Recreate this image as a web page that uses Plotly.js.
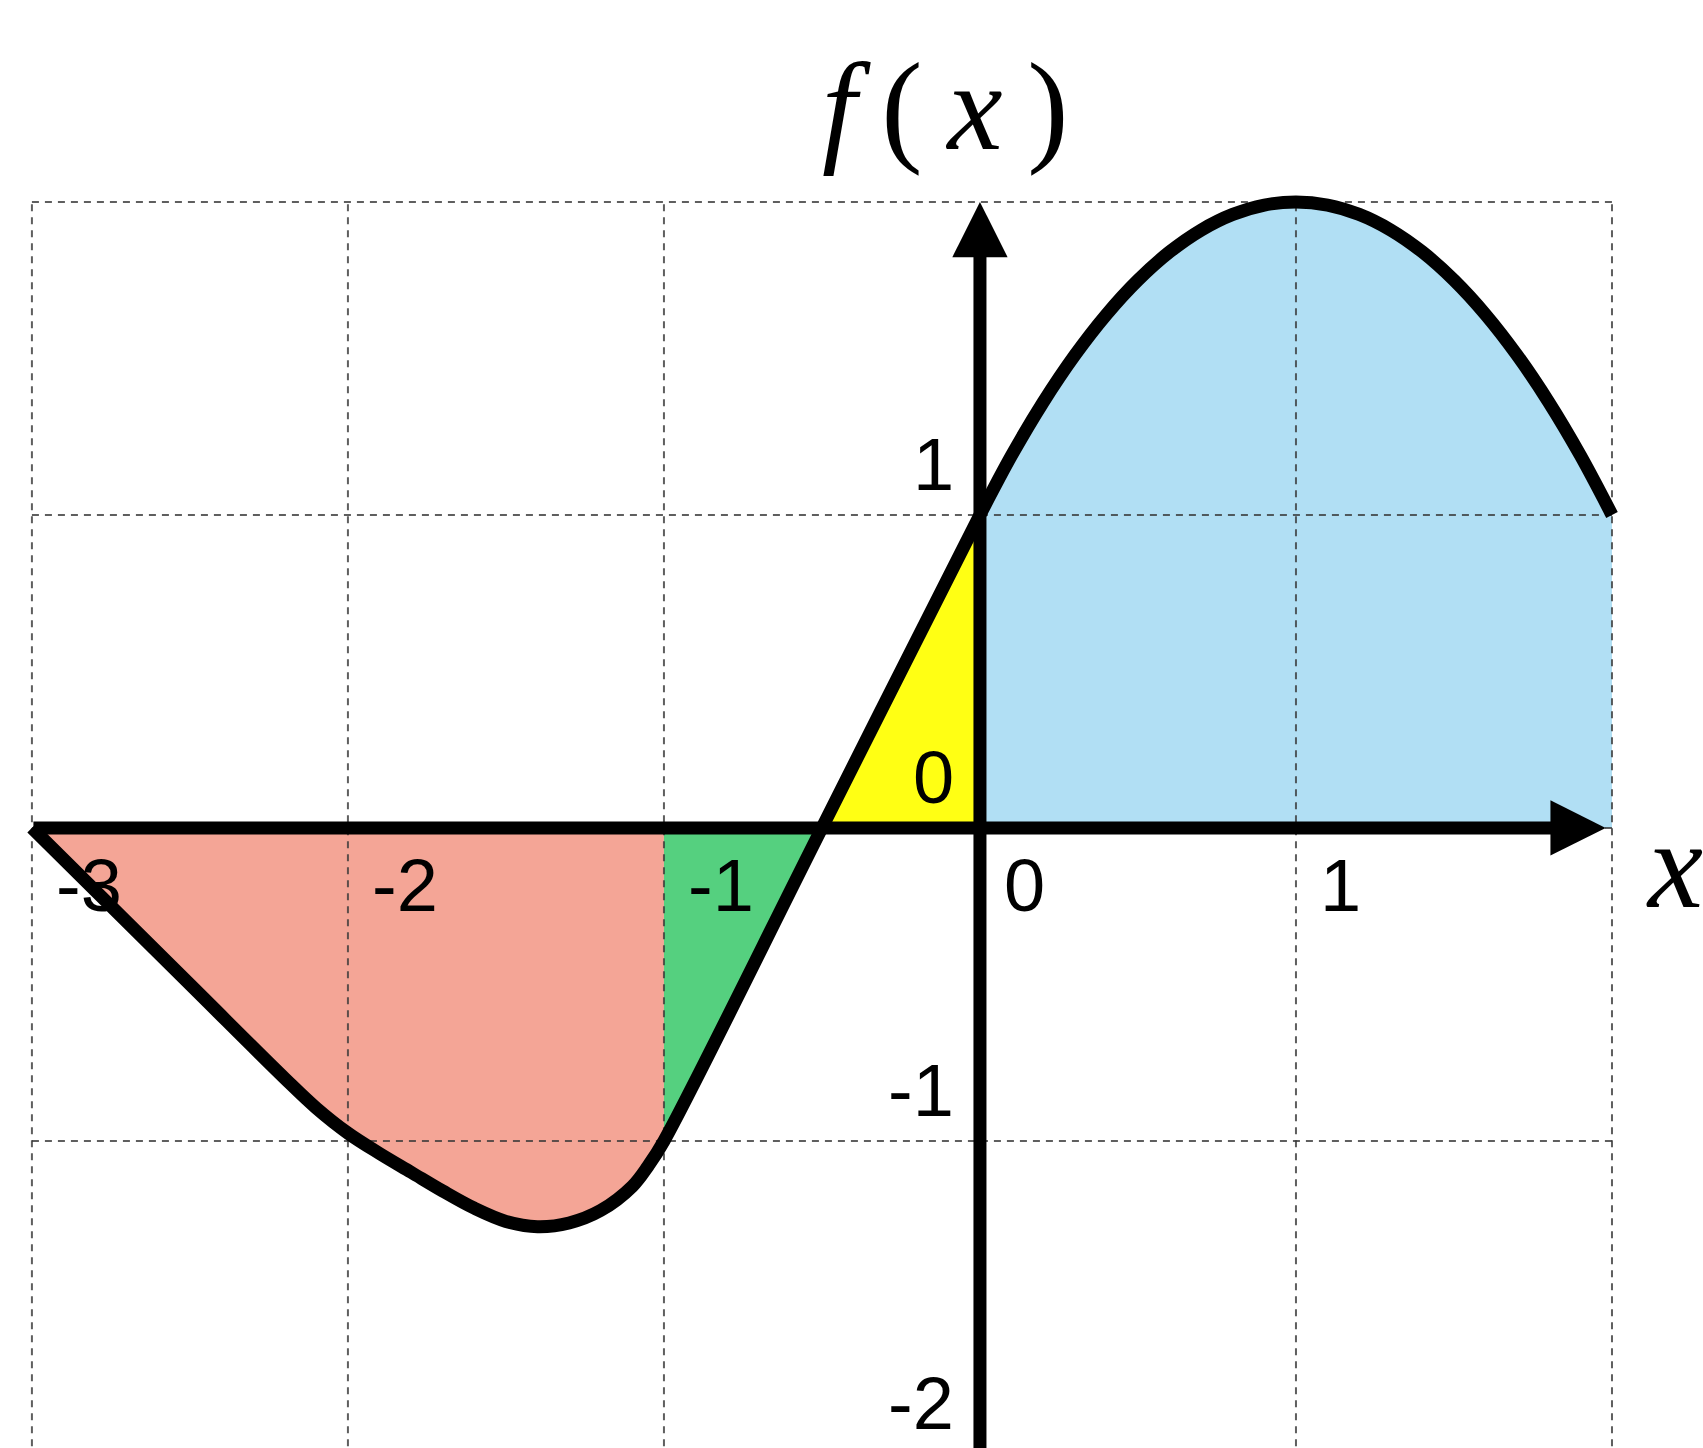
<!DOCTYPE html>
<html>
<head>
<meta charset="utf-8">
<script src="https://cdn.plot.ly/plotly-3.0.1.min.js"></script>
<style>
  html, body { margin: 0; padding: 0; background: #ffffff; }
  #chart { width: 1703px; height: 1448px; }
</style>
</head>
<body>
<div id="chart"></div>
<script>
// Sampled points of f(x)
const curveX = [-3, -2.5, -2.2, -2.1, -2.0, -1.9, -1.8, -1.7, -1.6, -1.5, -1.4, -1.3, -1.2, -1.1, -1.05, -1.0, -0.5, 0,
                0.1, 0.2, 0.3, 0.4, 0.5, 0.6, 0.7, 0.8, 0.9, 1.0, 1.1, 1.2, 1.3, 1.4, 1.5, 1.6, 1.7, 1.8, 1.9, 2.0];
const curveY = [0, -0.5, -0.8, -0.895, -0.975, -1.04, -1.1, -1.16, -1.215, -1.257, -1.274, -1.262, -1.222, -1.145, -1.08, -1.0, 0, 1.0,
                1.19, 1.36, 1.51, 1.64, 1.75, 1.84, 1.91, 1.96, 1.99, 2.0, 1.99, 1.96, 1.91, 1.84, 1.75, 1.64, 1.51, 1.36, 1.19, 1.0];

// Shaded intervals between the curve and the x axis
const regionLo = [-3, -1, -0.5, 0];
const regionHi = [-1, -0.5, 0, 2];
const regionColors = ['rgba(238,110,85,0.62)', 'rgba(55,200,105,0.85)', 'rgb(255,255,20)', 'rgba(125,202,236,0.6)'];

// Grid and tick labels
const gridX = [-3, -2, -1, 0, 1, 2];
const gridY = [-2, -1, 0, 1, 2];
const xTickVals = [-3, -2, -1, 0, 1];
const xTickText = ['-3', '-2', '-1', '0', '1'];
const yTickVals = [1, 0, -1, -2];
const yTickText = ['1', '0', '-1', '-2'];

const xMin = -3, xMax = 2, yTop = 2, yBottom = -2.1;

const traces = [];

// filled areas
regionLo.forEach((lo, i) => {
  const hi = regionHi[i];
  const xs = [], ys = [];
  curveX.forEach((x, k) => {
    if (x >= lo - 1e-9 && x <= hi + 1e-9) { xs.push(x); ys.push(curveY[k]); }
  });
  traces.push({
    type: 'scatter', mode: 'lines', x: xs, y: ys,
    line: { width: 0, shape: 'spline', smoothing: 1 },
    fill: 'tozeroy', fillcolor: regionColors[i],
    hoverinfo: 'skip', showlegend: false
  });
});

// dashed grid
const gx = [], gy = [];
gridX.forEach(v => { gx.push(v, v, null); gy.push(yBottom, yTop, null); });
gridY.forEach(v => { gx.push(xMin, xMax, null); gy.push(v, v, null); });
traces.push({
  type: 'scatter', mode: 'lines', x: gx, y: gy,
  line: { color: 'rgba(55,55,55,0.8)', width: 2, dash: '7px,6px' },
  hoverinfo: 'skip', showlegend: false
});

// the curve
traces.push({
  type: 'scatter', mode: 'lines', x: curveX, y: curveY,
  line: { color: '#000000', width: 13, shape: 'spline', smoothing: 1 },
  hoverinfo: 'skip', showlegend: false
});

const labelFont = { family: 'Liberation Sans, Arial, sans-serif', size: 74, color: '#000000' };
const annotations = [];

// axis arrows
annotations.push({
  x: 1.98, y: 0, ax: xMin, ay: 0, xref: 'x', yref: 'y', axref: 'x', ayref: 'y',
  text: '', showarrow: true, arrowhead: 2, arrowsize: 0.85, arrowwidth: 13, arrowcolor: '#000000'
});
annotations.push({
  x: 0, y: 2.0, ax: 0, ay: -2.2, xref: 'x', yref: 'y', axref: 'x', ayref: 'y',
  text: '', showarrow: true, arrowhead: 2, arrowsize: 0.85, arrowwidth: 13, arrowcolor: '#000000'
});

// tick labels
xTickVals.forEach((v, i) => {
  annotations.push({
    x: v, y: 0, xref: 'x', yref: 'y', text: xTickText[i], showarrow: false,
    xanchor: 'left', yanchor: 'middle', xshift: 22, yshift: -58, font: labelFont
  });
});
yTickVals.forEach((v, i) => {
  annotations.push({
    x: 0, y: v + 0.16, xref: 'x', yref: 'y', text: yTickText[i], showarrow: false,
    xanchor: 'right', yanchor: 'middle', xshift: -24, font: labelFont
  });
});

// axis titles
const titleFont = { family: 'Liberation Serif, DejaVu Serif, serif', size: 124, color: '#000000' };
annotations.push({
  x: -0.11, y: 2.30, xref: 'x', yref: 'y', showarrow: false,
  text: '<i>f</i>\u2009(\u2009<i>x</i>\u2009)', xanchor: 'center', yanchor: 'middle', font: titleFont
});
annotations.push({
  x: 2.1, y: -0.12, xref: 'x', yref: 'y', showarrow: false,
  text: '<i>x</i>', xanchor: 'left', yanchor: 'middle', font: titleFont
});

const layout = {
  width: 1703, height: 1448,
  margin: { l: 0, r: 0, t: 0, b: 0 },
  paper_bgcolor: '#ffffff', plot_bgcolor: '#ffffff',
  showlegend: false,
  xaxis: { range: [-3.101, 2.288], visible: false, fixedrange: true },
  yaxis: { range: [-1.981, 2.645], visible: false, fixedrange: true },
  annotations: annotations
};

Plotly.newPlot('chart', traces, layout, { staticPlot: true, displayModeBar: false });
</script>
</body>
</html>
